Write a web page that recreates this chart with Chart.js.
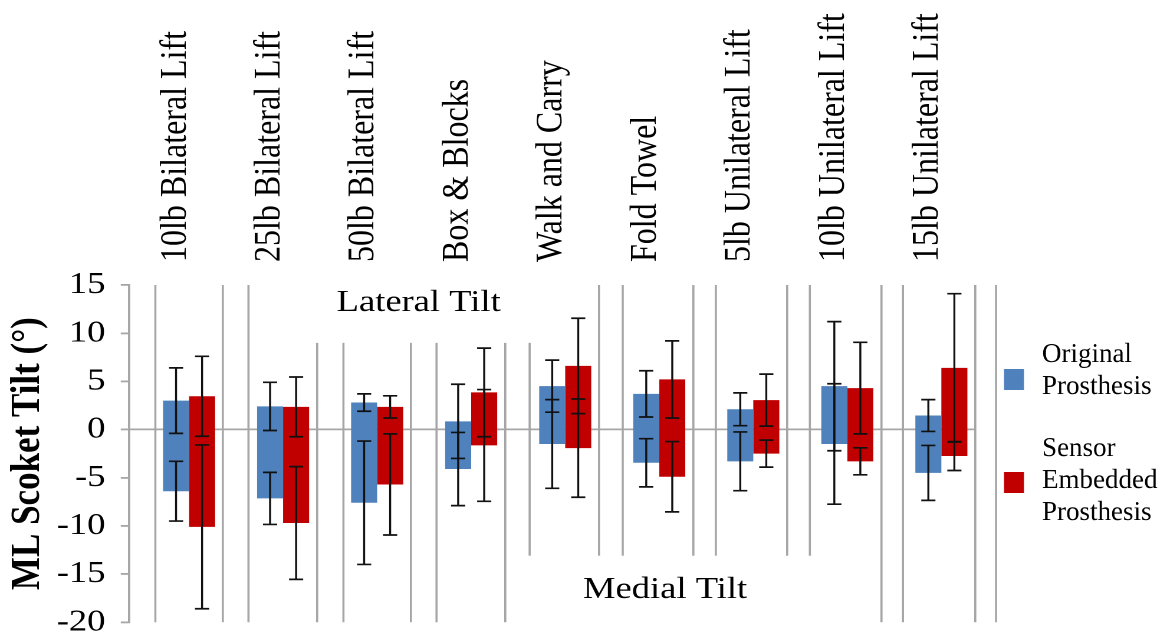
<!DOCTYPE html>
<html>
<head>
<meta charset="utf-8">
<script src="https://cdn.jsdelivr.net/npm/chart.js@4.4.0/dist/chart.umd.min.js"></script>
<style>
  html, body { margin: 0; padding: 0; background: #fff; overflow: hidden; }
  /* the original figure is stretched horizontally, so draw narrow and stretch */
  #wrap { width: 992px; height: 636px; transform: scaleX(1.1794); transform-origin: 0 0; }
</style>
</head>
<body>
<div id="wrap"><canvas id="chart"></canvas></div>
<script>
// Tasks
const categories = [
    '10lb Bilateral Lift', '25lb Bilateral Lift', '50lb Bilateral Lift',
    'Box & Blocks', 'Walk and Carry', 'Fold Towel',
    '5lb Unilateral Lift', '10lb Unilateral Lift', '15lb Unilateral Lift'
];

// Original prosthesis: mean max / min tilt and their SD (deg)
const origMax   = [3.0, 2.4, 2.8, 0.85, 4.5, 3.7, 2.1, 4.5, 1.45];
const origMaxSD = [3.4, 2.5, 0.9, 3.85, 2.7, 2.4, 1.7, 6.7, 1.65];
const origMin   = [-6.4, -7.15, -7.6, -4.1, -1.5, -3.45, -3.3, -1.5, -4.5];
const origMinSD = [3.1, 2.7, 6.4, 3.8, 4.6, 2.5, 3.05, 6.25, 2.85];

// Sensor embedded prosthesis
const sensMax   = [3.45, 2.35, 2.35, 3.85, 6.6, 5.2, 3.05, 4.3, 6.4];
const sensMaxSD = [4.15, 3.1, 1.15, 4.6, 4.95, 4.0, 2.7, 4.75, 7.7];
const sensMin   = [-10.1, -9.7, -5.7, -1.65, -1.93, -4.9, -2.5, -3.3, -2.75];
const sensMinSD = [8.5, 5.85, 5.25, 5.8, 5.1, 3.65, 1.4, 1.4, 1.5];

// Y axis ticks
const yTicks = [15, 10, 5, 0, -5, -10, -15, -20];

// Extra separator lines, in category widths from the left of the plot
const sepLines = [0.28, 1.27, 2.28, 3.27, 4.26, 5.25, 6.24, 7.24, 8.23, 9.22];

// Direction notes (x in category widths, y in degrees)
const tiltNotes = [
    { text: 'Lateral Tilt', x: 3.08, y: 12.3, box: [1.5, 4.6, 15, 9.1] },
    { text: 'Medial Tilt', x: 5.70, y: -17.5, box: [4.1, 7.6, -13.2, -20] }
];

const legendLines = [['Original', 'Prosthesis'], ['Sensor', 'Embedded', 'Prosthesis']];

const STRETCH = 1.1794;
const SERIF = "'Liberation Serif', 'Times New Roman', serif";
const GRAY = '#a6a6a6';
Chart.defaults.font.family = SERIF;
Chart.defaults.color = '#000';

const ranges = (lo, hi) => lo.map((v, i) => [v, hi[i]]);

const decorPlugin = {
    id: 'decor',
    beforeDatasetsDraw(chart) {
        const { ctx, chartArea: area, scales: { y } } = chart;
        const catW = area.width / categories.length;
        ctx.save();
        ctx.strokeStyle = GRAY;
        ctx.lineWidth = 1.8;
        sepLines.forEach(u => {
            const px = area.left + u * catW;
            ctx.beginPath();
            ctx.moveTo(px, area.top);
            ctx.lineTo(px, area.bottom);
            ctx.stroke();
        });
        // white boxes behind the notes, then the notes
        tiltNotes.forEach(n => {
            const x0 = area.left + n.box[0] * catW, x1 = area.left + n.box[1] * catW;
            const y0 = y.getPixelForValue(n.box[2]), y1 = y.getPixelForValue(n.box[3]);
            ctx.fillStyle = '#fff';
            ctx.fillRect(x0, y0 - 1, x1 - x0, y1 - y0 + 2);
            ctx.fillStyle = '#000';
            ctx.font = '31px ' + SERIF;
            ctx.textAlign = 'center';
            ctx.textBaseline = 'alphabetic';
            ctx.fillText(n.text, area.left + n.x * catW, y.getPixelForValue(n.y));
        });
        ctx.restore();
    },
    afterDatasetsDraw(chart) {
        const { ctx, scales: { y } } = chart;
        ctx.save();
        ctx.strokeStyle = '#111';
        ctx.lineWidth = 1.7;
        chart.data.datasets.forEach((ds, di) => {
            if (!ds.maxSD) return;
            const meta = chart.getDatasetMeta(di);
            meta.data.forEach((bar, i) => {
                const pairs = [[ds.maxVals[i], ds.maxSD[i]], [ds.minVals[i], ds.minSD[i]]];
                pairs.forEach(([m, sd]) => {
                    const yTop = y.getPixelForValue(m + sd);
                    const yBot = y.getPixelForValue(m - sd);
                    ctx.beginPath();
                    ctx.moveTo(bar.x, yTop); ctx.lineTo(bar.x, yBot);
                    ctx.moveTo(bar.x - 6, yTop); ctx.lineTo(bar.x + 6, yTop);
                    ctx.moveTo(bar.x - 6, yBot); ctx.lineTo(bar.x + 6, yBot);
                    ctx.stroke();
                });
            });
        });
        ctx.restore();
    },
    afterDraw(chart) {
        // legend with wrapped labels, drawn without the horizontal stretch
        const { ctx } = chart;
        const items = chart.data.datasets.filter(ds => ds.label);
        const firstLineY = [355, 449];
        const squareY = [379, 482];
        ctx.save();
        ctx.scale(1 / STRETCH, 1);
        ctx.font = '27px ' + SERIF;
        ctx.textAlign = 'left';
        ctx.textBaseline = 'middle';
        items.forEach((ds, k) => {
            ctx.fillStyle = ds.backgroundColor;
            ctx.fillRect(1004, squareY[k] - 10, 20, 21);
            ctx.fillStyle = '#000';
            legendLines[k].forEach((line, j) => {
                ctx.fillText(line, 1042, firstLineY[k] + j * 32);
            });
        });
        ctx.restore();
    }
};

new Chart(document.getElementById('chart'), {
    type: 'bar',
    data: {
        labels: categories,
        datasets: [
            {
                // empty slot: the bars sit right of the category centre
                label: '',
                data: categories.map(() => null),
                backgroundColor: 'rgba(0,0,0,0)'
            },
            {
                label: 'Original Prosthesis',
                data: ranges(origMin, origMax),
                backgroundColor: '#4f81bd',
                maxVals: origMax, maxSD: origMaxSD, minVals: origMin, minSD: origMinSD
            },
            {
                label: 'Sensor Embedded Prosthesis',
                data: ranges(sensMin, sensMax),
                backgroundColor: '#c00000',
                maxVals: sensMax, maxSD: sensMaxSD, minVals: sensMin, minSD: sensMinSD
            }
        ]
    },
    options: {
        responsive: true,
        maintainAspectRatio: false,
        animation: false,
        devicePixelRatio: 2,
        categoryPercentage: 0.83,
        barPercentage: 1.0,
        layout: { padding: { left: 0, right: 165, top: 0, bottom: 0 } },
        plugins: {
            legend: { display: false },
            tooltip: { enabled: false }
        },
        scales: {
            x: {
                position: 'top',
                offset: true,
                grid: { color: GRAY, lineWidth: 1.8, offset: true, drawTicks: false },
                border: { display: false },
                ticks: {
                    autoSkip: false,
                    minRotation: 90,
                    maxRotation: 90,
                    padding: 23,
                    labelOffset: 38,
                    font: { size: 32 },
                    color: '#000'
                },
                afterFit(scale) { scale.height = 285; }
            },
            y: {
                min: -20,
                max: 15,
                afterBuildTicks(scale) { scale.ticks = yTicks.map(v => ({ value: v })); },
                grid: {
                    color: ctx => ctx.tick && ctx.tick.value === 0 ? GRAY : 'rgba(0,0,0,0)',
                    tickColor: GRAY,
                    tickLength: 7,
                    lineWidth: 1.8
                },
                border: { display: true, color: GRAY, width: 1.8 },
                // small lineHeight keeps the -20 label from pushing the plot up
                ticks: { font: { size: 31, lineHeight: 0.05 }, padding: 13, color: '#000' },
                title: {
                    display: true,
                    text: 'ML Scoket Tilt (°)',
                    font: { size: 35, weight: 'bold' },
                    padding: { top: 3, bottom: 0 },
                    color: '#000'
                },
                afterFit(scale) { scale.width = 109.4; }
            }
        }
    },
    plugins: [decorPlugin]
});
</script>
</body>
</html>
